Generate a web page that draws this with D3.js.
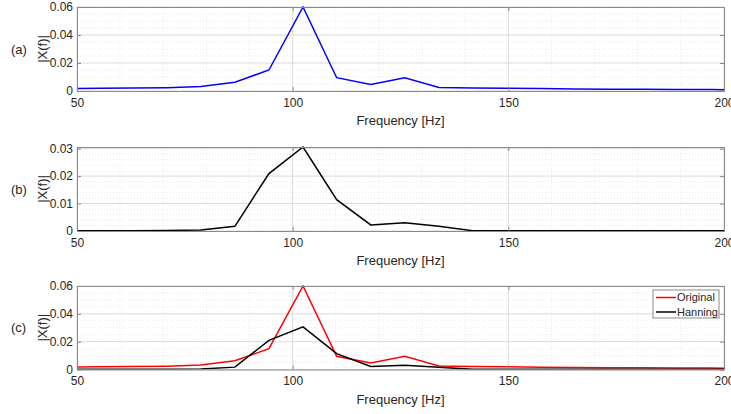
<!DOCTYPE html>
<html><head><meta charset="utf-8">
<script src="https://cdn.jsdelivr.net/npm/d3@7"></script>
<style>
body{margin:0;background:#fff;}
svg{display:block;font-family:"Liberation Sans",Arial,sans-serif;}
</style></head>
<body>
<script>
// ---- data ----
const freq = [47.2, 55.1, 63.0, 70.9, 78.7, 86.6, 94.5, 102.4, 110.2, 118.1, 126.0, 133.9, 141.7, 149.6, 157.5, 165.4, 173.2, 181.1, 189.0, 196.9, 204.7];
const original = [0.0018, 0.0019, 0.0021, 0.0024, 0.0032, 0.0063, 0.0150, 0.0600, 0.0095, 0.0047, 0.0095, 0.0025, 0.0022, 0.0019, 0.0017, 0.0015, 0.0013, 0.0012, 0.0011, 0.0010, 0.0009];
const hanning = [0.0001, 0.0001, 0.0001, 0.0002, 0.0004, 0.0017, 0.0209, 0.0306, 0.0114, 0.0022, 0.0030, 0.0017, 0.0001, 0.0001, 0.0001, 0.0001, 0.0001, 0.0001, 0.0001, 0.0001, 0.0001];
const xTicks = [50, 100, 150, 200];
const yTicksA = [0, 0.02, 0.04, 0.06];
const yTicksB = [0, 0.01, 0.02, 0.03];
const panelLabels = ["(a)", "(b)", "(c)"];
const legendNames = ["Original", "Hanning"];

const W = 731, H = 414;
const svg = d3.select("body").append("svg").attr("width", W).attr("height", H);
const L = 77, R = 724;
const x = d3.scaleLinear().domain([50, 200]).range([L, R]);
const xMinor = d3.range(50, 201, 10);

const panels = [
  {top: 7, bottom: 91, ymax: d3.max(original), ticks: yTicksA, minorStep: 0.005, series: [{v: original, c: "#0000ff"}]},
  {top: 147, bottom: 231, ymax: d3.max(hanning), ticks: yTicksB, minorStep: 0.002, series: [{v: hanning, c: "#000000"}]},
  {top: 286, bottom: 369.5, ymax: d3.max(original), ticks: yTicksA, minorStep: 0.005, series: [{v: original, c: "#ff0000"}, {v: hanning, c: "#000000"}], legend: true}
];
const txt = "#262626", axc = "#8a8a8a";
const FF = "Liberation Sans, Arial, sans-serif";

panels.forEach((p, i) => {
  const y = d3.scaleLinear().domain([0, p.ymax]).range([p.bottom, p.top]);
  const g = svg.append("g");
  const yMinor = d3.range(0, p.ymax + 1e-9, p.minorStep);
  // minor grid
  g.selectAll(".mx").data(xMinor).enter().append("line")
    .attr("x1", d => x(d)).attr("x2", d => x(d)).attr("y1", p.top).attr("y2", p.bottom)
    .attr("stroke", "#e3e3e3").attr("stroke-width", 0.8).attr("stroke-dasharray", "1,2");
  g.selectAll(".my").data(yMinor).enter().append("line")
    .attr("x1", L).attr("x2", R).attr("y1", d => y(d)).attr("y2", d => y(d))
    .attr("stroke", "#e3e3e3").attr("stroke-width", 0.8).attr("stroke-dasharray", "1,2");
  // major grid
  g.selectAll(".gx").data(xTicks).enter().append("line")
    .attr("x1", d => x(d)).attr("x2", d => x(d)).attr("y1", p.top).attr("y2", p.bottom)
    .attr("stroke", "#dcdcdc").attr("stroke-width", 1);
  g.selectAll(".gy").data(p.ticks).enter().append("line")
    .attr("x1", L).attr("x2", R).attr("y1", d => y(d)).attr("y2", d => y(d))
    .attr("stroke", "#dcdcdc").attr("stroke-width", 1);

  // clip
  const cid = "clip" + i;
  svg.append("clipPath").attr("id", cid).append("rect")
    .attr("x", L).attr("y", p.top - 1).attr("width", R - L).attr("height", p.bottom - p.top + 1);
  const line = d3.line().x((d, k) => x(freq[k])).y(d => y(d));
  p.series.forEach(s => {
    g.append("path").datum(s.v).attr("d", line).attr("fill", "none")
      .attr("stroke", s.c).attr("stroke-width", 1.5).attr("clip-path", `url(#${cid})`);
  });

  // axes (ticks inside)
  const tl = 4;
  g.append("g").attr("transform", `translate(0,${p.bottom})`)
    .call(d3.axisBottom(x).tickValues(xTicks).tickSize(-tl).tickPadding(7).tickFormat(d3.format("d")))
    .call(a => { a.select(".domain").attr("stroke", axc); a.selectAll(".tick line").attr("stroke", axc);
      a.selectAll("text").attr("fill", txt).attr("font-size", 12).attr("font-family", FF); });
  g.append("g").attr("transform", `translate(0,${p.top})`)
    .call(d3.axisTop(x).tickValues(xTicks).tickSize(-tl).tickFormat(""))
    .call(a => { a.select(".domain").attr("stroke", axc); a.selectAll(".tick line").attr("stroke", axc); });
  g.append("g").attr("transform", `translate(${L},0)`)
    .call(d3.axisLeft(y).tickValues(p.ticks).tickSize(-tl).tickPadding(4).tickFormat(d => d === 0 ? "0" : d3.format(".2f")(d)))
    .call(a => { a.select(".domain").attr("stroke", axc); a.selectAll(".tick line").attr("stroke", axc);
      a.selectAll("text").attr("fill", txt).attr("font-size", 12).attr("font-family", FF); });
  g.append("g").attr("transform", `translate(${R},0)`)
    .call(d3.axisRight(y).tickValues(p.ticks).tickSize(-tl).tickFormat(""))
    .call(a => { a.select(".domain").attr("stroke", axc); a.selectAll(".tick line").attr("stroke", axc); });

  // labels
  const mid = (p.top + p.bottom) / 2;
  g.append("text").attr("x", 11).attr("y", mid).attr("dy", "0.35em")
    .attr("font-size", 13).attr("fill", txt).text(panelLabels[i]);
  g.append("text").attr("transform", `translate(42,${mid}) rotate(-90)`).attr("text-anchor", "middle").attr("dy", "0.35em")
    .attr("font-size", 13).attr("fill", txt).text("|X(f)|");
  g.append("text").attr("x", (L + R) / 2).attr("y", p.bottom + 34).attr("text-anchor", "middle")
    .attr("font-size", 13).attr("fill", txt).text("Frequency [Hz]");

  if (p.legend) {
    const lg = g.append("g").attr("transform", `translate(653,290)`);
    lg.append("rect").attr("width", 66).attr("height", 28).attr("fill", "#fff").attr("stroke", "#8a8a8a").attr("stroke-width", 1);
    p.series.forEach((s, k) => {
      const yy = 7.5 + k * 14.5;
      lg.append("line").attr("x1", 3).attr("x2", 23).attr("y1", yy).attr("y2", yy).attr("stroke", s.c).attr("stroke-width", 1.5);
      lg.append("text").attr("x", 24).attr("y", yy).attr("dy", "0.35em").attr("font-size", 11).attr("fill", txt).text(legendNames[k]);
    });
  }
});
</script>
</body></html>
